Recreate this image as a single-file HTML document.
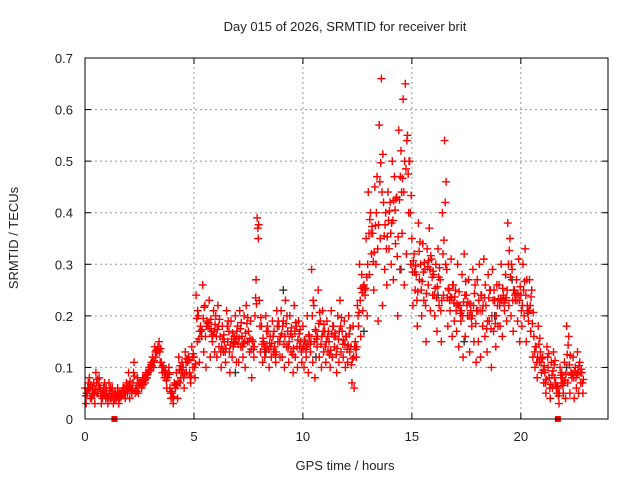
<!DOCTYPE html>
<html><head><meta charset="utf-8"><style>
body{margin:0;background:#fff;}
svg text{font-family:"Liberation Sans",sans-serif;font-size:13px;fill:#222;}
</style></head><body>
<svg id="chart" width="640" height="480" viewBox="0 0 640 480" xmlns="http://www.w3.org/2000/svg">
<rect width="640" height="480" fill="#fff"/>
<text x="345" y="31" text-anchor="middle">Day 015 of 2026, SRMTID for receiver brit</text>
<text x="345" y="470" text-anchor="middle">GPS time / hours</text>
<text transform="translate(18,238) rotate(-90)" text-anchor="middle">SRMTID / TECUs</text>
<g id="grid"></g><g id="ticks"></g><g id="marks"></g>
<rect x="85" y="58" width="523" height="361" fill="none" stroke="#000" stroke-width="1"/>
</svg>
<script>
const xTicks=[0,5,10,15,20];
const yTicks=[0,0.1,0.2,0.3,0.4,0.5,0.6,0.7];
const yTickLabels=["0","0.1","0.2","0.3","0.4","0.5","0.6","0.7"];
const tStart=0, tStep=0.1;
const seriesA=[.06,.05,.08,.04,.07,.09,.05,.06,.04,.07,
.05,.07,.04,.03,.05,.06,.04,.05,.06,.07,
.09,.06,.07,.05,.08,.07,.06,.08,.09,.09,
.10,.12,.14,.13,.15,.11,.10,.09,.08,.06,
.05,.07,.09,.12,.08,.10,.13,.11,.09,.14,
.12,.24,.20,.18,.26,.22,.19,.23,.17,.21,
.20,.22,.16,.18,.15,.21,.17,.19,.14,.20,
.18,.21,.16,.20,.22,.17,.19,.15,.20,.39,
.23,.18,.15,.20,.17,.16,.19,.14,.21,.18,
.21,.19,.23,.17,.20,.16,.22,.18,.19,.15,
.18,.15,.20,.16,.29,.22,.17,.25,.19,.21,
.17,.19,.15,.21,.18,.16,.20,.23,.17,.19,
.16,.20,.14,.18,.15,.22,.30,.28,.26,.35,
.44,.40,.36,.45,.47,.57,.66,.42,.40,.44,
.42,.50,.47,.43,.56,.52,.62,.65,.55,.50,
.35,.32,.28,.38,.30,.34,.29,.33,.37,.31,
.28,.30,.33,.27,.40,.54,.29,.25,.31,.26,
.25,.30,.22,.28,.32,.24,.27,.21,.29,.26,
.27,.30,.24,.31,.22,.28,.25,.29,.23,.26,
.26,.30,.24,.28,.38,.35,.29,.25,.27,.31,
.24,.30,.33,.22,.27,.25,.16,.14,.18,.13,
.12,.09,.14,.08,.11,.13,.07,.06,.10,.08,
.11,.18,.16,.09,.12,.10,.13,.11,.09];
const seriesB=[.03,.07,.04,.06,.03,.05,.08,.03,.06,.04,
.03,.04,.06,.05,.04,.03,.05,.06,.04,.05,
.04,.05,.11,.06,.05,.07,.08,.07,.08,.10,
.11,.10,.12,.14,.11,.09,.08,.06,.10,.04,
.03,.06,.04,.07,.11,.06,.09,.12,.07,.10,
.08,.15,.11,.16,.13,.10,.18,.12,.15,.13,
.12,.14,.10,.13,.11,.15,.09,.12,.16,.11,
.11,.14,.12,.10,.15,.13,.08,.12,.27,.35,
.13,.11,.12,.14,.10,.12,.13,.11,.15,.12,
.12,.10,.14,.11,.13,.09,.12,.10,.14,.11,
.10,.12,.09,.13,.11,.08,.14,.12,.10,.13,
.11,.13,.10,.12,.14,.09,.11,.13,.12,.10,
.11,.13,.07,.06,.12,.18,.16,.21,.24,.20,
.28,.32,.25,.30,.19,.35,.22,.29,.26,.33,
.30,.27,.34,.20,.29,.36,.26,.32,.40,.30,
.22,.25,.18,.27,.20,.23,.15,.26,.21,.24,
.20,.17,.22,.15,.24,.30,.18,.21,.16,.19,
.17,.14,.19,.12,.16,.20,.13,.18,.15,.11,
.15,.12,.18,.16,.13,.19,.10,.17,.14,.18,
.18,.16,.21,.19,.22,.20,.17,.23,.19,.15,
.18,.20,.15,.19,.17,.12,.10,.08,.11,.09,
.07,.05,.10,.04,.06,.08,.05,.03,.07,.05,
.04,.07,.05,.08,.04,.06,.05,.07,.05];
const darkTimes=[6.9,8.3,9.1,10.6,12.8,14.5,16.2,17.4,18.8,19.6,20.3,22.1];
const darkValues=[.09,.13,.25,.12,.17,.29,.24,.15,.20,.27,.21,.10];
const flagTimes=[1.35,21.7];
const X0=85,X1=608,Y0=419,Y1=58,XMAX=24,YMAX=0.7;
const xs=t=>X0+(X1-X0)*t/XMAX;
const ys=v=>Y0-(Y0-Y1)*v/YMAX;
const NS="http://www.w3.org/2000/svg";
const grid=document.getElementById('grid'),ticks=document.getElementById('ticks'),marks=document.getElementById('marks');
function mk(tag,attrs,parent){const e=document.createElementNS(NS,tag);for(const k in attrs)e.setAttribute(k,attrs[k]);parent.appendChild(e);return e;}
yTicks.forEach((v,i)=>{
  const y=ys(v);
  if(i>0&&i<yTicks.length-1){const g=mk('line',{x1:X0,x2:X1,y1:y,y2:y,stroke:'#999','stroke-dasharray':'2,3'},grid);
  
  }
  mk('line',{x1:X0,x2:X0+6,y1:y,y2:y,stroke:'#000'},ticks);
  mk('line',{x1:X1,x2:X1-6,y1:y,y2:y,stroke:'#000'},ticks);
  const t=mk('text',{x:X0-12,y:y+5,'text-anchor':'end'},ticks);t.textContent=yTickLabels[i];
  
  
});
xTicks.forEach(v=>{
  const x=xs(v);
  if(v>0){const g=mk('line',{x1:x,x2:x,y1:Y0,y2:Y1,stroke:'#999','stroke-dasharray':'2,3'},grid);
  
  }
  mk('line',{x1:x,x2:x,y1:Y0,y2:Y0-6,stroke:'#000'},ticks);
  mk('line',{x1:x,x2:x,y1:Y1,y2:Y1+6,stroke:'#000'},ticks);
  const t=mk('text',{x:x,y:Y0+22,'text-anchor':'middle'},ticks);t.textContent=String(v);
  
  
});
function plus(t,v,col,name){
  const x=xs(t),y=ys(v);
  const p=mk('path',{d:`M${x-4},${y}H${x+4}M${x},${y-4}V${y+4}`,stroke:col,'stroke-width':1.4,fill:'none'},marks);
  
  
}
darkTimes.forEach((t,i)=>plus(t,darkValues[i],'#333','dark-point'));
seriesA.forEach((v,i)=>{
  const t=tStart+i*tStep;
  plus(t,v,'#f00','point-a');
  plus(t+0.05,seriesB[i],'#f00','point-b');
  plus(t+0.03,(v+seriesB[i])/2,'#f00','point-mid');
  plus(t+0.07,(v*2+seriesB[i])/3,'#f00','point-mid');
});
flagTimes.forEach(t=>{
  const r=mk('rect',{x:xs(t)-3,y:Y0-3,width:6,height:6,fill:'#f00'},marks);
  
  
});
</script>
</body></html>
